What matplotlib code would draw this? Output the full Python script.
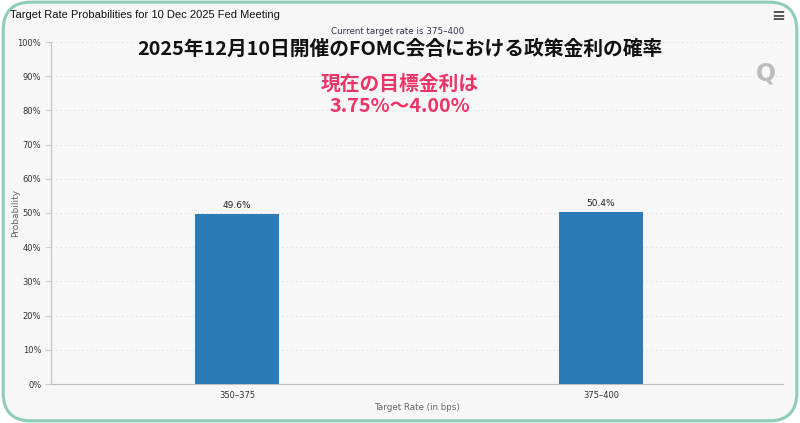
import matplotlib.pyplot as plt
from matplotlib.patches import FancyBboxPatch
from matplotlib.ticker import PercentFormatter

# data
rates = ['350-375', '375-400']
probs = [49.6, 50.4]
yticks = [0, 10, 20, 30, 40, 50, 60, 70, 80, 90, 100]

jp_font = ['Noto Sans CJK JP', 'DejaVu Sans']

fig = plt.figure(figsize=(8, 4.23), dpi=100)
fig.patch.set_facecolor('white')

# rounded green frame with light gray fill
frame = FancyBboxPatch((0.004, 0.005), 0.992, 0.99, boxstyle='round,pad=0,rounding_size=0.035',
                       transform=fig.transFigure, facecolor='#f7f7f7', edgecolor='#8fcdb6',
                       linewidth=2.2, mutation_aspect=800 / 423, zorder=-10)
fig.patches.append(frame)

ax = fig.add_axes([51 / 800, 1 - 384 / 423, (783 - 51) / 800, (384 - 42) / 423])
ax.set_facecolor('none')

x = range(len(rates))
bars = ax.bar(x, probs, width=0.231, color='#2b7bb9', zorder=3)
for b, p in zip(bars, probs):
    ax.text(b.get_x() + b.get_width() / 2, p + 1.2, f'{p}%', ha='center', va='bottom',
            fontsize=6.5, color='#222222')

ax.set_xlim(-0.511, 1.5)
ax.set_ylim(0, 100)
ax.set_yticks(yticks)
ax.yaxis.set_major_formatter(PercentFormatter(decimals=0))
ax.set_xticks(list(x))
ax.set_xticklabels([r.replace('-', '–') for r in rates])
ax.tick_params(axis='both', labelsize=6, colors='#333333', length=0, pad=5)
ax.tick_params(axis='y', length=4, color='#cccccc', pad=3)
ax.grid(axis='y', color='#dddddd', linestyle=(0, (1, 3)), linewidth=0.8, zorder=0)
for s in ['top', 'right']:
    ax.spines[s].set_visible(False)
ax.spines['left'].set_color('#c0c0c0')
ax.spines['bottom'].set_color('#c0c0c0')
ax.set_ylabel('Probability', fontsize=6.5, color='#666666')
ax.yaxis.set_label_coords(-31 / 732, 0.5)
ax.set_xlabel('Target Rate (in bps)', fontsize=6.3, color='#666666')
ax.xaxis.set_label_coords(0.5, -19 / 342)

# header texts
fig.text(10 / 800, 1 - 15 / 423, 'Target Rate Probabilities for 10 Dec 2025 Fed Meeting',
         fontsize=8.0, family='Liberation Sans', color='#111111', va='center')
fig.text(398 / 800, 1 - 31 / 423, 'Current target rate is 375–400', fontsize=6.3,
         color='#333355', ha='center', va='center')
fig.text(778 / 800, 1 - 16 / 423, '≡', fontsize=12, fontweight='bold', color='#555555',
         ha='center', va='center')
fig.text(766 / 800, 1 - 73 / 423, 'Q', fontsize=17, fontweight='bold', color='#bdbdbd',
         ha='center', va='center')

# Japanese overlay
fig.text(400 / 800, 1 - 49 / 423, '2025年12月10日開催のFOMC会合における政策金利の確率',
         family=jp_font, fontsize=14.25, fontweight='bold', color='#111111', ha='center', va='center')
fig.text(400 / 800, 1 - 84 / 423, '現在の目標金利は', family=jp_font, fontsize=14.25,
         fontweight='bold', color='#ec3466', ha='center', va='center')
fig.text(400 / 800, 1 - 107 / 423, '3.75%〜4.00%', family=jp_font, fontsize=14.25,
         fontweight='bold', color='#ec3466', ha='center', va='center')

fig.savefig('out.png', dpi=100)
